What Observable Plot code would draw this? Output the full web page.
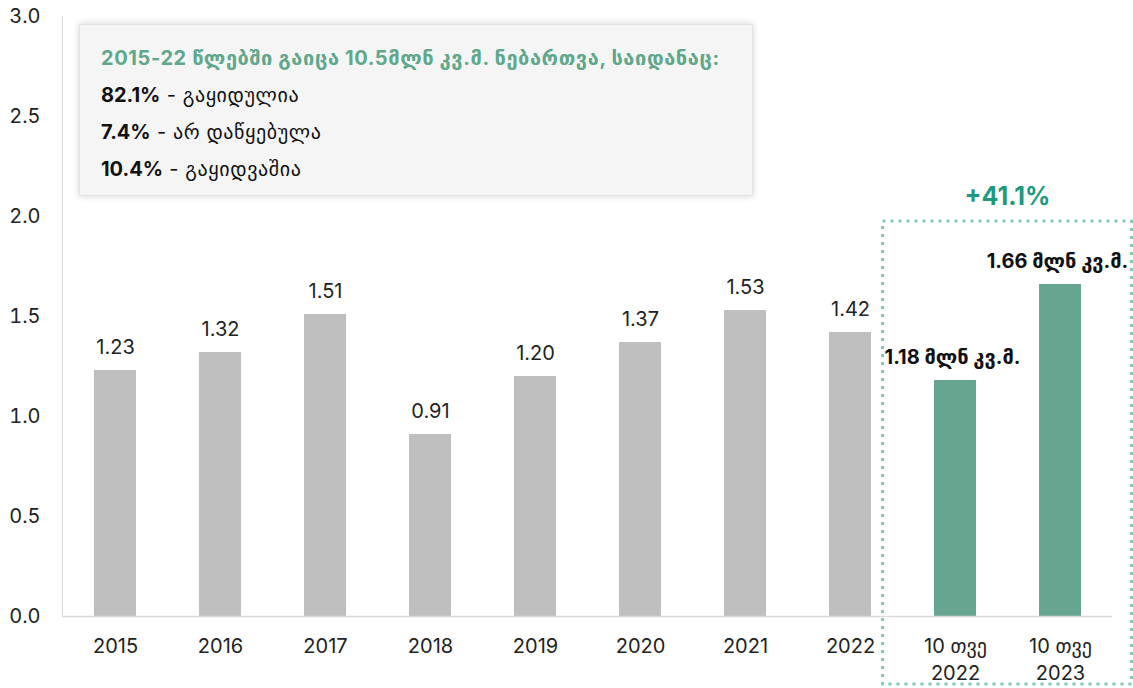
<!DOCTYPE html>
<html>
<head>
<meta charset="utf-8">
<script src="https://cdn.jsdelivr.net/npm/d3@7"></script>
<script src="https://cdn.jsdelivr.net/npm/@observablehq/plot@0.6"></script>
<style>
  body { margin: 0; background: #fff; font-family: Inter, "DejaVu Sans", sans-serif; }
  #wrap { position: relative; width: 1133px; height: 688px; }
  #note {
    position: absolute; left: 79px; top: 24px; width: 674px; height: 172px;
    box-sizing: border-box; background: #f5f5f5; border: 1px solid #e3e3e3;
    box-shadow: 0 0 7px rgba(0,0,0,0.18);
    color: #111; font-size: 20px; letter-spacing: 0.03em;
  }
  #note div { position: absolute; left: 21px; transform: translateY(-50%); white-space: nowrap; }
  #note .t { color: #5fa88c; font-weight: 700; font-size: 20px; letter-spacing: 0.03em; }
  #note b { font-weight: 700; letter-spacing: 0; }
</style>
</head>
<body>
<div id="wrap"></div>
<script>
const categories = ["2015","2016","2017","2018","2019","2020","2021","2022","10 თვე\n2022","10 თვე\n2023"];
const values = [1.23,1.32,1.51,0.91,1.20,1.37,1.53,1.42,1.18,1.66];
const highlighted = [false,false,false,false,false,false,false,false,true,true];
const yTicks = [0,0.5,1,1.5,2,2.5,3];
const noteTitle = "2015-22 წლებში გაიცა 10.5მლნ კვ.მ. ნებართვა, საიდანაც:";
const noteShares = ["82.1%","7.4%","10.4%"];
const noteLabels = ["გაყიდულია","არ დაწყებულა","გაყიდვაშია"];
const changeLabel = "+41.1%";
const unit = "მლნ კვ.მ.";

const data = categories.map((c,i)=>({c, v: values[i], h: highlighted[i]}));
const grey = data.filter(d=>!d.h), green = data.filter(d=>d.h);

const chart = Plot.plot({
  width: 1133, height: 688,
  marginLeft: 62, marginRight: 21, marginTop: 16, marginBottom: 72,
  style: {fontFamily: 'Inter, "DejaVu Sans", sans-serif', fontSize: "20px", color: "#222", background: "#fff"},
  x: {domain: categories, paddingInner: 0.6, paddingOuter: 0.3, label: null},
  y: {domain: [0,3], label: null},
  marks: [
    Plot.frame({anchor: "left", stroke: "#d9d9d9"}),
    Plot.barY(data, {x: "c", y: "v", fill: d => d.h ? "#67a591" : "#bfbfbf"}),
    Plot.ruleY([0], {stroke: "#d9d9d9", strokeWidth: 1.5}),
    Plot.axisY({ticks: yTicks, tickFormat: d3.format(".1f"), tickSize: 0, tickPadding: 22, fontSize: 20, fill: "#222", label: null}),
    Plot.axisX({tickSize: 0, tickPadding: 17, fontSize: 20, lineHeight: 1.35, fill: "#222", label: null}),
    Plot.text(grey, {x: "c", y: "v", text: d => d3.format(".2f")(d.v), dy: -23, fontSize: 20, fill: "#222"}),
    Plot.text(green, {x: "c", y: "v", text: d => d3.format(".2f")(d.v) + " " + unit, dy: -23, dx: -3, fontSize: 20, fontWeight: "bold", fill: "#111"})
  ]
});
document.getElementById("wrap").appendChild(chart);

(function () {
  const xs = chart.scale("x"), ys = chart.scale("y");
  const svg = d3.select(chart);
  const c1 = xs.apply(categories[8]) + xs.bandwidth/2, c2 = xs.apply(categories[9]) + xs.bandwidth/2;
  const step = c2 - c1;
  const bx0 = c1 - step*0.69, bx1 = 1131.5, by0 = ys.apply(1.975), by1 = 684;
  svg.append("rect")
    .attr("x", bx0).attr("y", by0).attr("width", bx1-bx0).attr("height", by1-by0)
    .attr("fill", "none").attr("stroke", "#7ecbb0").attr("stroke-width", 3).attr("stroke-dasharray", "3,5");
  svg.append("text")
    .attr("x", (c1+c2)/2).attr("y", ys.apply(2.1)).attr("text-anchor", "middle").attr("dy", "0.35em")
    .attr("font-size", 25).attr("font-weight", "bold").attr("fill", "#1f9a7e").text(changeLabel);

  const note = document.createElement("div");
  note.id = "note";
  let html = `<div class="t" style="top:33px">${noteTitle}</div>`;
  noteShares.forEach((s,i)=>{ html += `<div style="top:${70+37*i}px"><b>${s}</b> - ${noteLabels[i]}</div>`; });
  note.innerHTML = html;
  document.getElementById("wrap").appendChild(note);
})();
</script>
</body>
</html>
